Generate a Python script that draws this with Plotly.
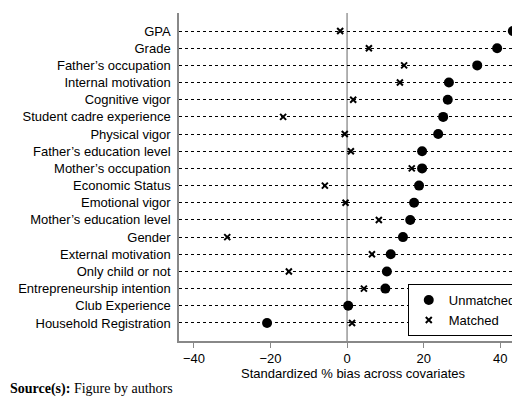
import plotly.graph_objects as go

covariates = ["GPA","Grade","Father\u2019s occupation","Internal motivation","Cognitive vigor",
 "Student cadre experience","Physical vigor","Father\u2019s education level","Mother\u2019s occupation",
 "Economic Status","Emotional vigor","Mother\u2019s education level","Gender","External motivation",
 "Only child or not","Entrepreneurship intention","Club Experience","Household Registration"]
unmatched = [43.3,39.2,34.0,26.6,26.3,25.1,23.8,19.6,19.6,18.8,17.5,16.5,14.6,11.4,10.4,10.0,0.3,-20.9]
matched = [-1.8,5.7,14.9,13.8,1.6,-16.7,-0.6,1.0,16.9,-5.8,-0.4,8.3,-31.3,6.5,-15.2,4.4,0.3,1.3]
xticks = [-40,-20,0,20,40]

idx = list(range(len(covariates)))
fig = go.Figure()
fig.add_trace(go.Scatter(x=unmatched, y=idx, mode="markers", name="Unmatched", cliponaxis=False,
    marker=dict(symbol="circle", size=10, color="black")))
fig.add_trace(go.Scatter(x=matched, y=idx, mode="markers", name="Matched", cliponaxis=False,
    marker=dict(symbol="x-thin", size=6, color="black", line=dict(width=2, color="black"))))
fig.add_vline(x=0, line=dict(color="#999999", width=1.5), layer="below")
F = "Liberation Sans, Arial, sans-serif"
fig.update_layout(
    width=520, height=402, margin=dict(l=171, r=1, t=5, b=69, autoexpand=False),
    plot_bgcolor="white", paper_bgcolor="white",
    font=dict(family=F, size=13, color="black"),
    xaxis=dict(range=[-43.9, 47], tickvals=xticks, showgrid=False, zeroline=False,
        showline=True, linecolor="#888888", linewidth=1.5, ticks="outside", ticklen=5, tickcolor="#888888",
        title=dict(text="Standardized % bias across covariates", font=dict(size=13), standoff=4)),
    yaxis=dict(range=[18.05, -1.05], tickvals=idx, ticktext=covariates, showgrid=True,
        gridcolor="black", griddash="dot", gridwidth=1, zeroline=False,
        showline=True, linecolor="#888888", linewidth=1.5, ticks="", ticklabelstandoff=4),
    legend=dict(x=0.985, y=0.015, xanchor="right", yanchor="bottom", bordercolor="black",
        borderwidth=1, bgcolor="white", font=dict(size=13), tracegroupgap=0),
    annotations=[dict(text="<b>Source(s):</b> Figure by authors", x=0, y=0, xref="paper", yref="paper",
        xanchor="left", yanchor="top", xshift=-171, yshift=-38, showarrow=False,
        font=dict(family="Liberation Serif, Times New Roman, serif", size=14))],
)
fig.write_html("out.html")
